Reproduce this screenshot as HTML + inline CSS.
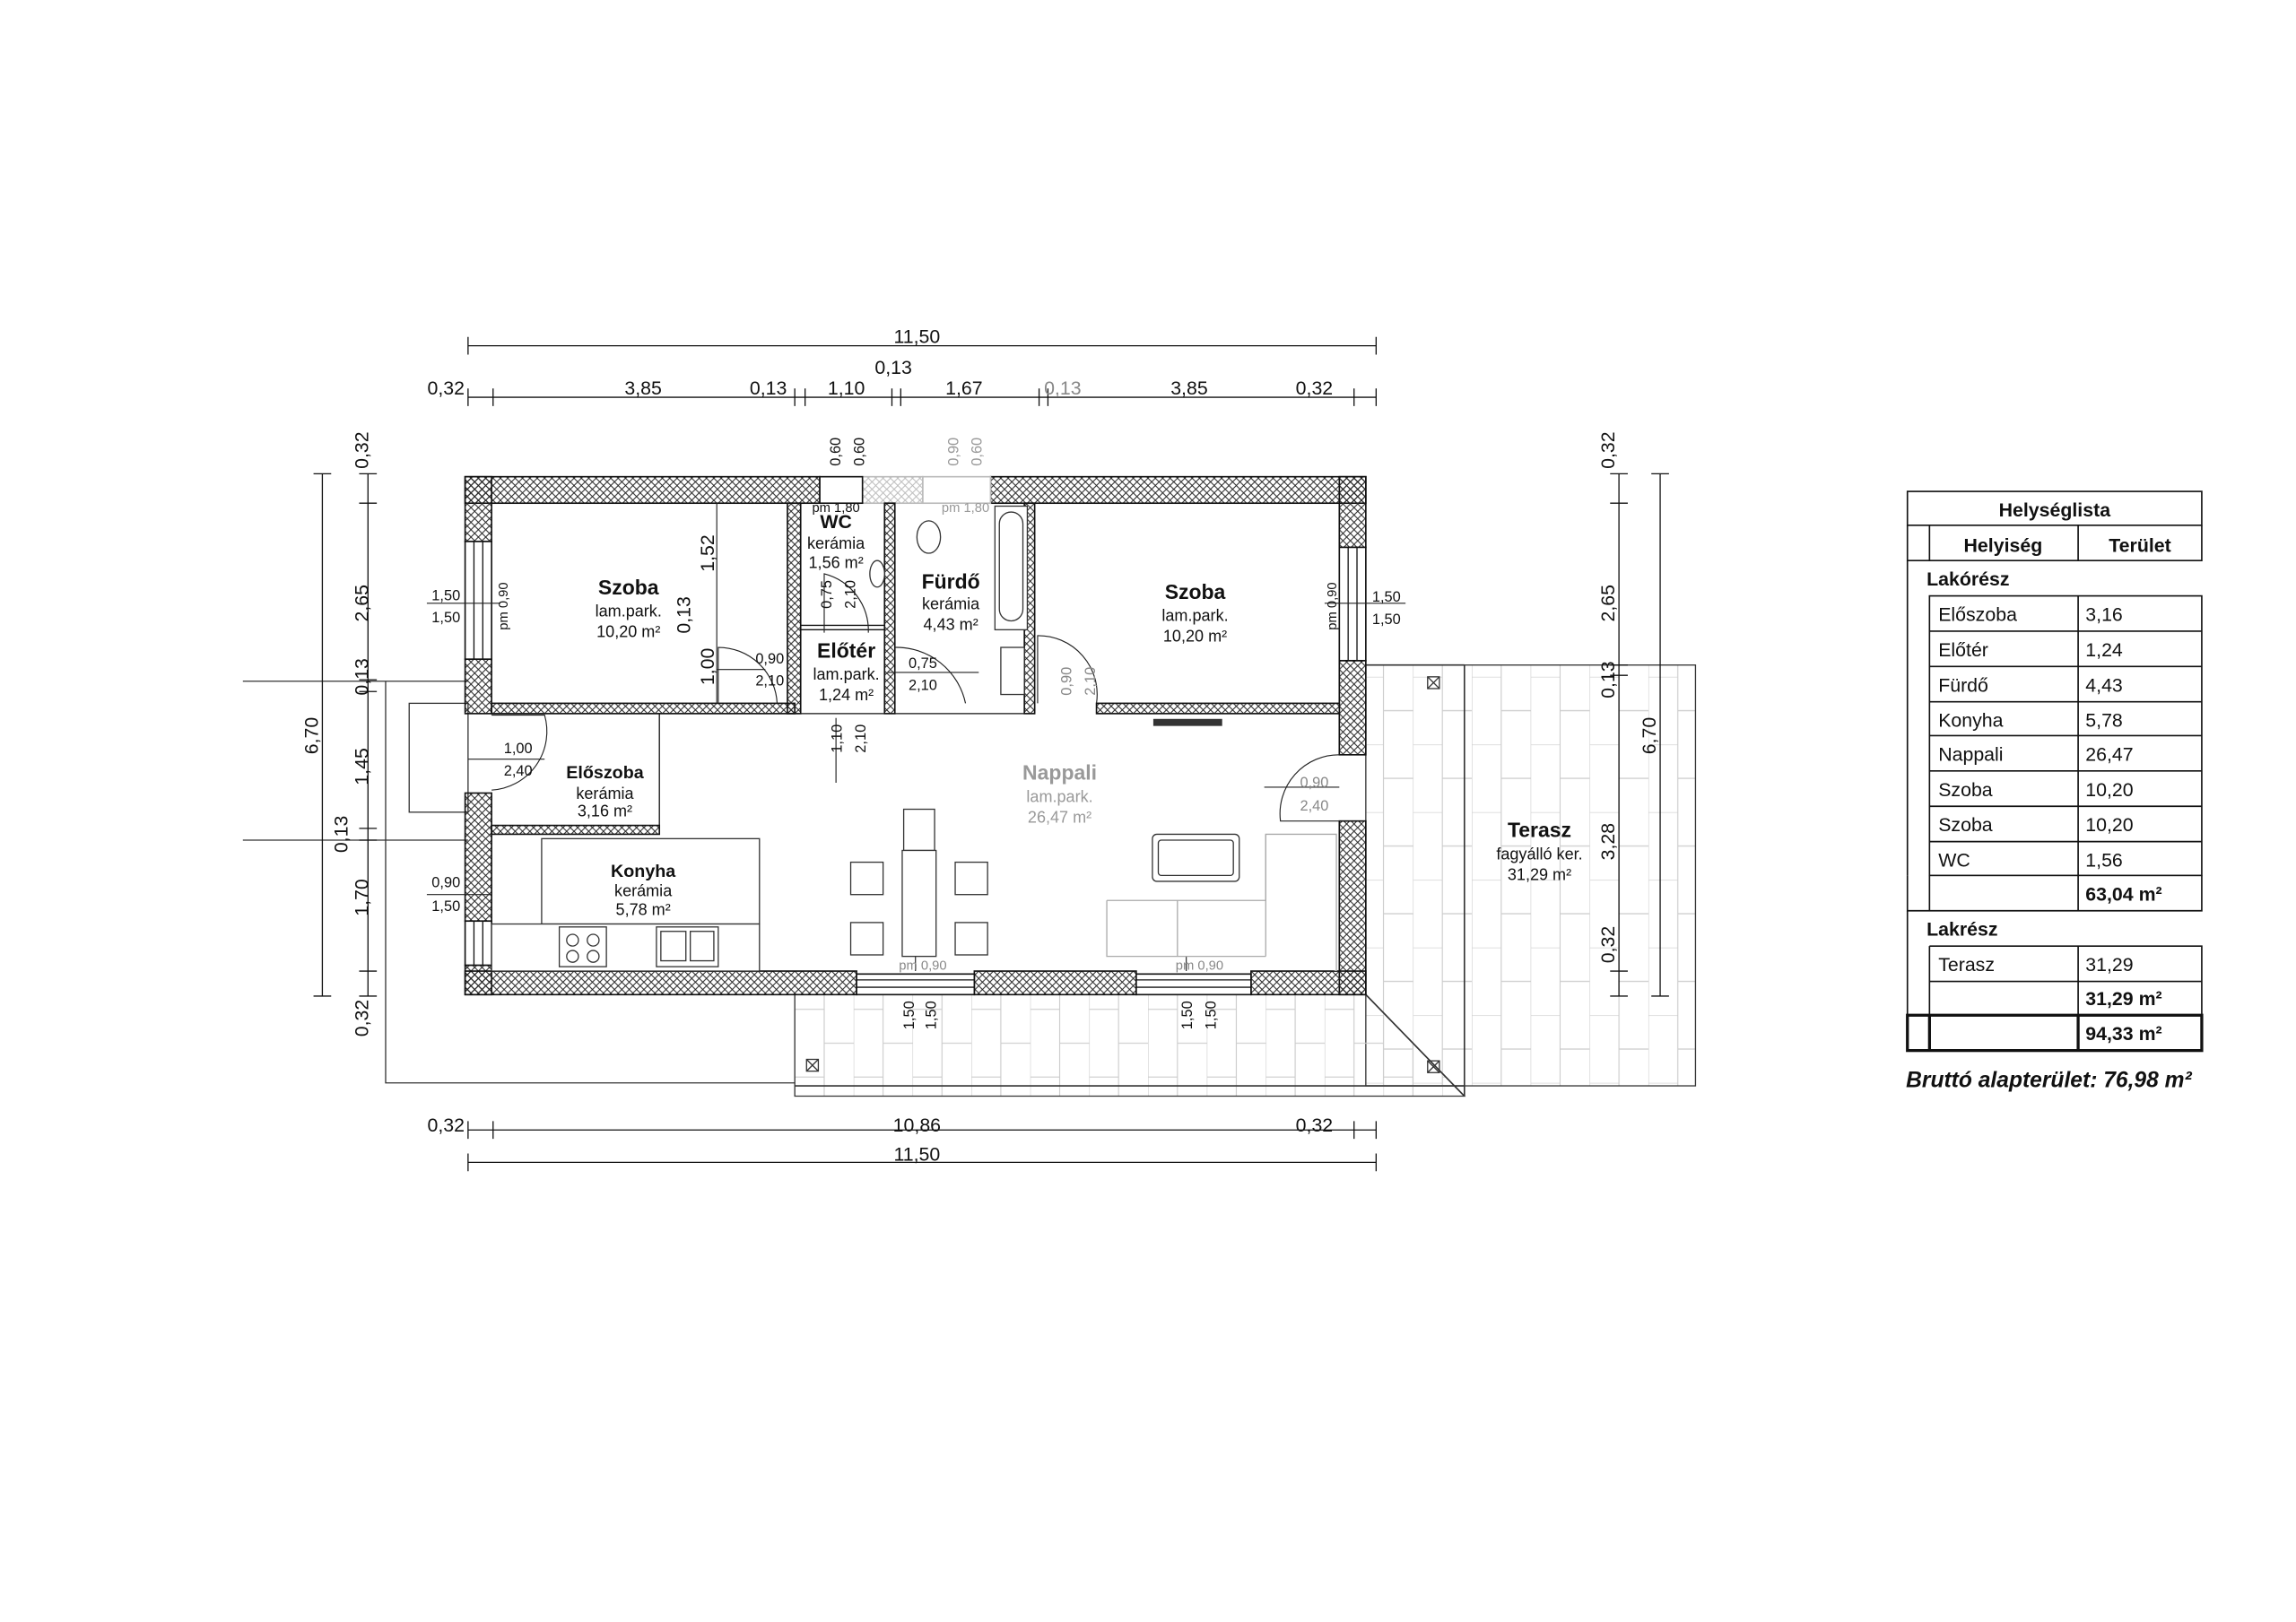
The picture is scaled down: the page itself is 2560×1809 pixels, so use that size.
<!DOCTYPE html>
<html><head><meta charset="utf-8"><style>
html,body{margin:0;padding:0;background:#fff}
svg{display:block}
text{font-family:"Liberation Sans",sans-serif;fill:#111}
</style></head><body>
<svg width="2560" height="1809" viewBox="0 0 1560 1102.4" xmlns="http://www.w3.org/2000/svg">
<defs>
<pattern id="h" width="5" height="5" patternUnits="userSpaceOnUse">
<path d="M0 0L5 5M5 0L0 5" stroke="#222" stroke-width="0.6"/>
</pattern>
<pattern id="hl" width="5" height="5" patternUnits="userSpaceOnUse">
<path d="M0 0L5 5M5 0L0 5" stroke="#bbb" stroke-width="0.6"/>
</pattern>
<pattern id="t" width="40" height="46" patternUnits="userSpaceOnUse">
<path d="M0 0V46M20 0V46M0 0H20M20 23H40" stroke="#ccc" stroke-width="0.7" fill="none"/>
</pattern>
<pattern id="t2" width="40" height="46" patternUnits="userSpaceOnUse" x="540" y="676">
<path d="M0 0V46M20 0V46M0 10H20M20 33H40" stroke="#ccc" stroke-width="0.7" fill="none"/>
</pattern>
</defs>

<!-- terraces -->
<rect x="928" y="452" width="224" height="286" fill="url(#t)" stroke="#333" stroke-width="0.8"/>
<polygon points="540,676 928,676 995,745 540,745" fill="url(#t2)" stroke="#333" stroke-width="0.8"/>
<line x1="928" y1="452" x2="995" y2="452" stroke="#333"/>
<line x1="995" y1="452" x2="995" y2="745" stroke="#333"/>
<line x1="540" y1="738" x2="995" y2="738" stroke="#333"/>
<line x1="928" y1="676" x2="995" y2="745" stroke="#333"/>
<g stroke="#333" fill="none" stroke-width="0.8">
<rect x="970" y="460" width="8" height="8"/><path d="M970 460l8 8M978 460l-8 8"/>
<rect x="548" y="720" width="8" height="8"/><path d="M548 720l8 8M556 720l-8 8"/>
<rect x="970" y="721" width="8" height="8"/><path d="M970 721l8 8M978 721l-8 8"/>
</g>
<!-- outer lines left -->
<g stroke="#333" fill="none" stroke-width="0.8">
<path d="M262 463V736H540"/>
<rect x="278" y="478" width="40" height="74"/>
<path d="M165 463H318M165 571H318"/>
</g>

<!-- floor (white) -->
<rect x="334" y="342" width="576" height="318" fill="#fff"/>

<!-- walls -->
<g stroke="#111" stroke-width="1">
<rect x="316" y="324" width="241" height="18" fill="url(#h)"/>
<rect x="586" y="324" width="41" height="18" fill="url(#hl)" stroke="#bbb"/>
<rect x="673" y="324" width="255" height="18" fill="url(#h)"/>
<rect x="557" y="324" width="29" height="18" fill="#fff"/>
<rect x="627" y="324" width="46" height="18" fill="#fff" stroke="#bbb"/>
<rect x="316" y="324" width="18" height="44" fill="url(#h)"/>
<rect x="316" y="448" width="18" height="37" fill="url(#h)"/>
<rect x="316" y="539" width="18" height="87" fill="url(#h)"/>
<rect x="316" y="656" width="18" height="20" fill="url(#h)"/>
<rect x="910" y="324" width="18" height="48" fill="url(#h)"/>
<rect x="910" y="449" width="18" height="64" fill="url(#h)"/>
<rect x="910" y="558" width="18" height="118" fill="url(#h)"/>
<rect x="316" y="660" width="266" height="16" fill="url(#h)"/>
<rect x="662" y="660" width="110" height="16" fill="url(#h)"/>
<rect x="850" y="660" width="78" height="16" fill="url(#h)"/>
<rect x="582" y="662" width="80" height="14" fill="#fff"/>
<rect x="772" y="662" width="78" height="14" fill="#fff"/>
<rect x="316" y="368" width="18" height="80" fill="#fff"/>
<rect x="910" y="372" width="18" height="77" fill="#fff"/>
<rect x="316" y="626" width="18" height="30" fill="#fff"/>
<!-- interior -->
<rect x="334" y="478" width="206" height="7" fill="url(#h)"/>
<rect x="535" y="342" width="9" height="143" fill="url(#h)"/>
<rect x="601" y="342" width="7" height="143" fill="url(#h)"/>
<rect x="696" y="342" width="7" height="143" fill="url(#h)"/>
<rect x="745" y="478" width="165" height="7" fill="url(#h)"/>
<rect x="334" y="561" width="114" height="6" fill="url(#h)"/>
</g>
<g stroke="#111" stroke-width="0.8" fill="none">
<path d="M448 485V567"/>
<path d="M544 425H601M544 428H601"/>
<path d="M544 485H601"/>
<path d="M608 485H696"/>
<path d="M703 478V485"/>
<!-- windows -->
<path d="M322 368V448M328 368V448M916 372V449M922 372V449M322 626V656M328 626V656M582 666H662M582 671H662M772 666H850M772 671H850"/>
</g>

<!-- door arcs -->
<g stroke="#222" stroke-width="0.7" fill="none">
<path d="M488 478V440A40 40 0 0 1 528 478"/>
<path d="M608 440A48 48 0 0 1 656 478"/>
<path d="M334 486H370A40 40 0 0 1 334 537"/>
<path d="M745 478A40 40 0 0 0 705 432V478"/>
<path d="M910 513A40 40 0 0 0 870 558H910"/>
<path d="M560 430V390A40 40 0 0 1 590 430"/>
<path d="M487 342V478"/>
<path d="M487 455H520M318 516H370M603 457H665M859 535H910M290 410H340M900 410H955M290 608H334"/>
<path d="M568 488V532M622 640V660M806 640V660"/>
</g>

<!-- furniture -->
<g stroke="#333" stroke-width="0.8" fill="#fff">
<rect x="614" y="550" width="21" height="28"/>
<rect x="613" y="578" width="23" height="72"/>
<rect x="578" y="586" width="22" height="22"/><rect x="578" y="627" width="22" height="22"/>
<rect x="649" y="586" width="22" height="22"/><rect x="649" y="627" width="22" height="22"/>
<rect x="783" y="567" width="59" height="32" rx="3"/><rect x="787" y="571" width="51" height="24" rx="2"/>
<path d="M752 612H860V567H908V660M752 612V650H860" stroke="#aaa"/>
<path d="M800 612V650M860 567V650" stroke="#aaa"/>
<rect x="368" y="570" width="148" height="58"/>
<rect x="334" y="628" width="182" height="32"/>
<rect x="380" y="630" width="32" height="27"/>
<circle cx="389" cy="639" r="4"/><circle cx="403" cy="639" r="4"/><circle cx="389" cy="650" r="4"/><circle cx="403" cy="650" r="4"/>
<rect x="446" y="630" width="42" height="27"/>
<rect x="449" y="633" width="17" height="20"/><rect x="469" y="633" width="16" height="20"/>
<rect x="676" y="344" width="22" height="84"/><rect x="679" y="348" width="16" height="74" rx="8"/>
<rect x="680" y="440" width="16" height="32"/>
<ellipse cx="631" cy="365" rx="8" ry="11"/>
<ellipse cx="596" cy="390" rx="5" ry="9"/>
<rect x="784" y="489" width="46" height="4" fill="#333"/>
</g>

<!-- room labels -->
<g text-anchor="middle" font-size="11">
<text x="427" y="404" font-weight="bold" font-size="14">Szoba</text>
<text x="427" y="419">lam.park.</text><text x="427" y="433">10,20 m²</text>
<text x="812" y="407" font-weight="bold" font-size="14">Szoba</text>
<text x="812" y="422">lam.park.</text><text x="812" y="436">10,20 m²</text>
<text x="568" y="359" font-weight="bold" font-size="13">WC</text>
<text x="568" y="373">kerámia</text><text x="568" y="386">1,56 m²</text>
<text x="646" y="400" font-weight="bold" font-size="14">Fürdő</text>
<text x="646" y="414">kerámia</text><text x="646" y="428">4,43 m²</text>
<text x="575" y="447" font-weight="bold" font-size="14">Előtér</text>
<text x="575" y="462">lam.park.</text><text x="575" y="476">1,24 m²</text>
<text x="411" y="529" font-weight="bold" font-size="12">Előszoba</text>
<text x="411" y="543">kerámia</text><text x="411" y="555">3,16 m²</text>
<text x="437" y="596" font-weight="bold" font-size="12">Konyha</text>
<text x="437" y="609">kerámia</text><text x="437" y="622">5,78 m²</text>
<text x="720" y="530" font-weight="bold" font-size="14" style="fill:#999">Nappali</text>
<text x="720" y="545" style="fill:#999">lam.park.</text><text x="720" y="559" style="fill:#999">26,47 m²</text>
<text x="1046" y="569" font-weight="bold" font-size="14">Terasz</text>
<text x="1046" y="584">fagyálló ker.</text><text x="1046" y="598">31,29 m²</text>
</g>
<!-- opening labels -->
<g text-anchor="middle" font-size="10">
<text x="523" y="451">0,90</text><text x="523" y="466">2,10</text>
<text x="627" y="454">0,75</text><text x="627" y="469">2,10</text>
<text x="352" y="512">1,00</text><text x="352" y="527">2,40</text>
<text x="893" y="535" style="fill:#888">0,90</text><text x="893" y="551" style="fill:#888">2,40</text>
<text x="303" y="408">1,50</text><text x="303" y="423">1,50</text>
<text x="942" y="409">1,50</text><text x="942" y="424">1,50</text>
<text x="303" y="603">0,90</text><text x="303" y="619">1,50</text>
<text x="568" y="348" font-size="9">pm 1,80</text>
<text x="656" y="348" font-size="9" style="fill:#999">pm 1,80</text>
<text x="627" y="659" font-size="9" style="fill:#888">pm 0,90</text>
<text x="815" y="659" font-size="9" style="fill:#888">pm 0,90</text>
</g>
<g font-size="10" text-anchor="middle">
<text transform="translate(345,412) rotate(-90)" font-size="9">pm 0,90</text>
<text transform="translate(908,412) rotate(-90)" font-size="9">pm 0,90</text>
<text transform="translate(571,307) rotate(-90)">0,60</text><text transform="translate(587,307) rotate(-90)">0,60</text>
<text transform="translate(651,307) rotate(-90)" style="fill:#999">0,90</text><text transform="translate(667,307) rotate(-90)" style="fill:#999">0,60</text>
<text transform="translate(565,404) rotate(-90)">0,75</text><text transform="translate(581,404) rotate(-90)">2,10</text>
<text transform="translate(728,463) rotate(-90)" style="fill:#888">0,90</text><text transform="translate(744,463) rotate(-90)" style="fill:#888">2,10</text>
<text transform="translate(572,502) rotate(-90)">1,10</text><text transform="translate(588,502) rotate(-90)">2,10</text>
<text transform="translate(621,690) rotate(-90)">1,50</text><text transform="translate(636,690) rotate(-90)">1,50</text>
<text transform="translate(810,690) rotate(-90)">1,50</text><text transform="translate(826,690) rotate(-90)">1,50</text>
<text transform="translate(485,376) rotate(-90)" font-size="13">1,52</text>
<text transform="translate(469,418) rotate(-90)" font-size="13">0,13</text>
<text transform="translate(485,453) rotate(-90)" font-size="13">1,00</text>
</g>

<!-- dimension lines -->
<g stroke="#111" stroke-width="0.8" fill="none">
<path d="M318 235H935M318 229V241M935 229V241"/>
<path d="M318 270H935"/>
<path d="M318 264V276M335 264V276M540 264V276M547 264V276M606 264V276M612 264V276M706 264V276M712 264V276M920 264V276M935 264V276"/>
<path d="M318 768H935M318 762V774M335 762V774M920 762V774M935 762V774"/>
<path d="M318 790H935M318 784V796M935 784V796"/>
<path d="M219 322V677M213 322H225M213 677H225"/>
<path d="M250 322V677M244 322H256M244 342H256M244 462H256M244 470H256M244 563H256M244 571H256M244 660H256M244 677H256"/>
<path d="M1100 322V677M1094 322H1106M1094 342H1106M1094 452H1106M1094 459H1106M1094 660H1106M1094 677H1106"/>
<path d="M1128 322V677M1122 322H1134M1122 677H1134"/>
</g>
<g font-size="13" text-anchor="middle">
<text x="623" y="233">11,50</text>
<text x="607" y="254">0,13</text>
<text x="303" y="268">0,32</text><text x="437" y="268">3,85</text><text x="522" y="268">0,13</text>
<text x="575" y="268">1,10</text><text x="655" y="268">1,67</text><text x="722" y="268" style="fill:#888">0,13</text>
<text x="808" y="268">3,85</text><text x="893" y="268">0,32</text>
<text x="303" y="769">0,32</text><text x="623" y="769">10,86</text><text x="893" y="769">0,32</text>
<text x="623" y="789">11,50</text>
<text transform="translate(250,306) rotate(-90)">0,32</text>
<text transform="translate(250,410) rotate(-90)">2,65</text>
<text transform="translate(250,460) rotate(-90)">0,13</text>
<text transform="translate(216,500) rotate(-90)">6,70</text>
<text transform="translate(250,521) rotate(-90)">1,45</text>
<text transform="translate(236,567) rotate(-90)">0,13</text>
<text transform="translate(250,610) rotate(-90)">1,70</text>
<text transform="translate(250,692) rotate(-90)">0,32</text>
<text transform="translate(1097,306) rotate(-90)">0,32</text>
<text transform="translate(1097,410) rotate(-90)">2,65</text>
<text transform="translate(1097,462) rotate(-90)">0,13</text>
<text transform="translate(1125,500) rotate(-90)">6,70</text>
<text transform="translate(1097,572) rotate(-90)">3,28</text>
<text transform="translate(1097,642) rotate(-90)">0,32</text>
</g>

<!-- table -->
<g stroke="#111" stroke-width="1" fill="none">
<rect x="1296" y="334" width="200" height="23"/>
<path d="M1296 357V381H1496V357M1311 357V381M1412 357V381"/>
<path d="M1296 381V595"/>
<rect x="1311" y="405" width="185" height="190"/>
<path d="M1311 429H1496M1311 453H1496M1311 477H1496M1311 500H1496M1311 524H1496M1311 548H1496M1311 572H1496M1412 405V619"/>
<path d="M1296 595V619H1496V595M1311 595V619"/>
<path d="M1296 619V690M1311 643V690M1311 643H1496V690H1296M1311 667H1496M1412 643V690"/>
<rect x="1296" y="690" width="200" height="24" stroke-width="2"/>
<path d="M1311 690V714M1412 690V714" stroke-width="2"/>
</g>
<g font-size="13">
<text x="1396" y="351" text-anchor="middle" font-weight="bold">Helységlista</text>
<text x="1361" y="375" text-anchor="middle" font-weight="bold">Helyiség</text>
<text x="1454" y="375" text-anchor="middle" font-weight="bold">Terület</text>
<text x="1309" y="398" font-weight="bold">Lakórész</text>
<text x="1317" y="422">Előszoba</text><text x="1417" y="422">3,16</text>
<text x="1317" y="446">Előtér</text><text x="1417" y="446">1,24</text>
<text x="1317" y="470">Fürdő</text><text x="1417" y="470">4,43</text>
<text x="1317" y="494">Konyha</text><text x="1417" y="494">5,78</text>
<text x="1317" y="517">Nappali</text><text x="1417" y="517">26,47</text>
<text x="1317" y="541">Szoba</text><text x="1417" y="541">10,20</text>
<text x="1317" y="565">Szoba</text><text x="1417" y="565">10,20</text>
<text x="1317" y="589">WC</text><text x="1417" y="589">1,56</text>
<text x="1417" y="612" font-weight="bold">63,04 m²</text>
<text x="1309" y="636" font-weight="bold">Lakrész</text>
<text x="1317" y="660">Terasz</text><text x="1417" y="660">31,29</text>
<text x="1417" y="683" font-weight="bold">31,29 m²</text>
<text x="1417" y="707" font-weight="bold">94,33 m²</text>
<text x="1295" y="739" font-size="15" font-weight="bold" font-style="italic">Bruttó alapterület: 76,98 m²</text>
</g>
</svg>
</body></html>
